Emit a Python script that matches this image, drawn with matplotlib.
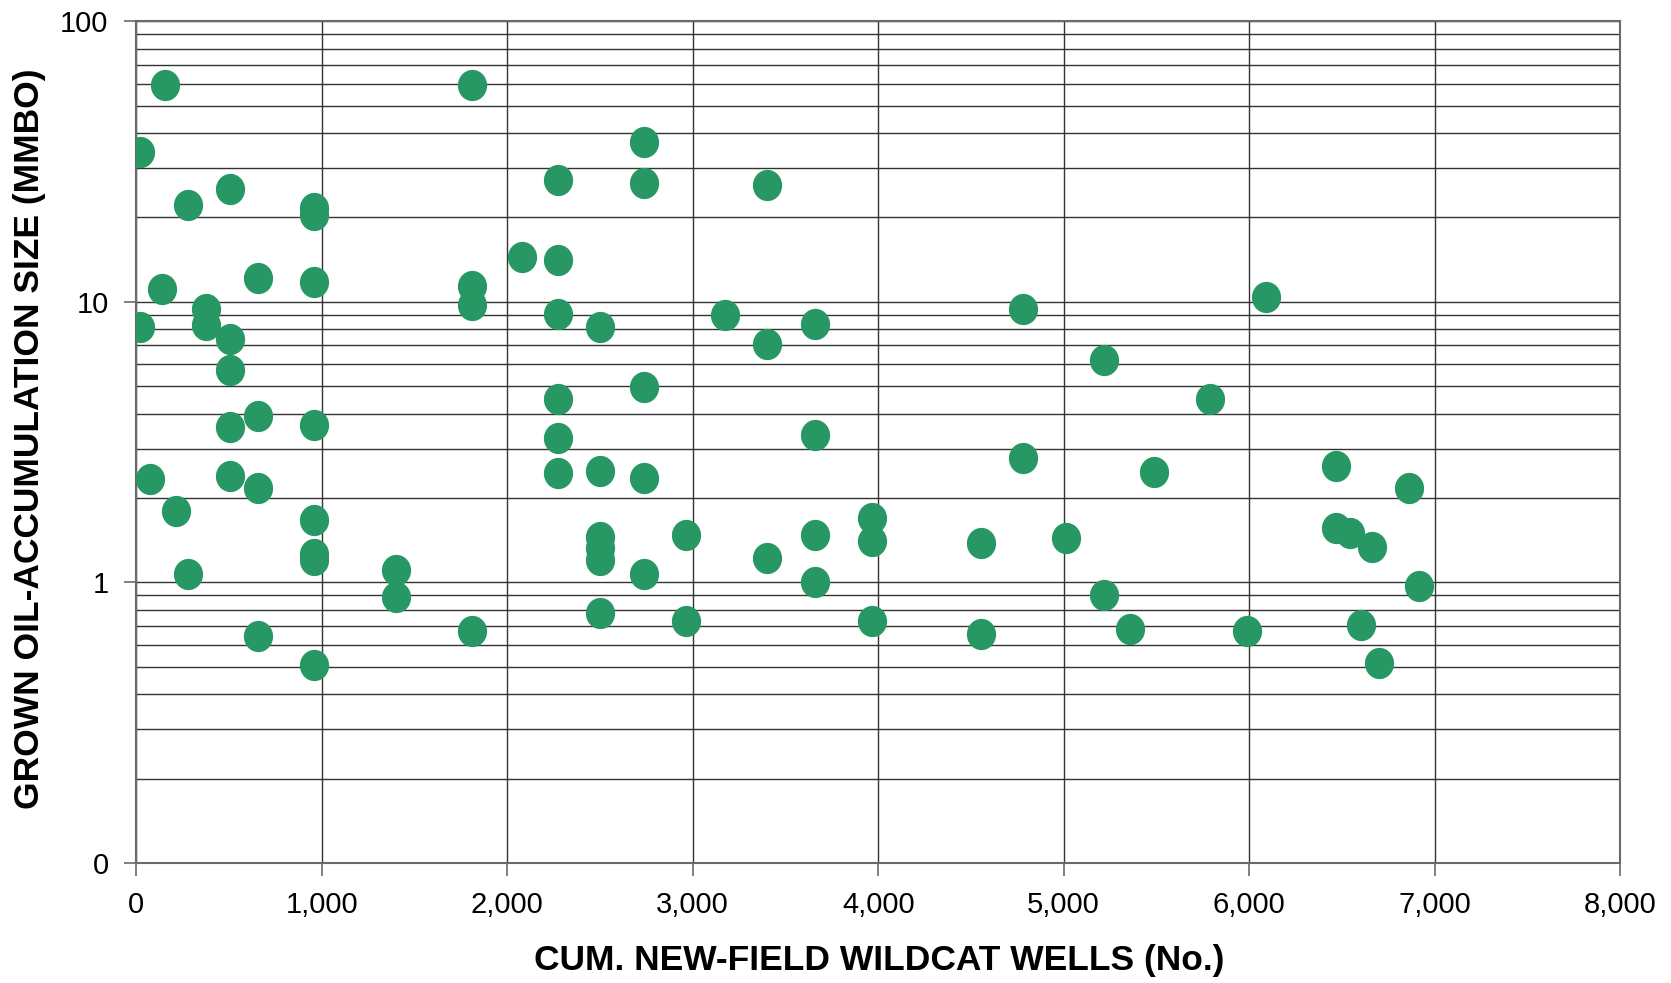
import matplotlib
matplotlib.use("Agg")
import matplotlib.pyplot as plt
import numpy as np
from matplotlib.path import Path
from matplotlib.ticker import FixedLocator, FuncFormatter, LogLocator, NullFormatter

# cumulative new-field wildcat wells vs grown accumulation size (MMBO)
wells = [17, 17, 75, 138, 155, 213, 276, 276,
         374, 374, 506, 506, 506, 506, 506,
         655, 655, 655, 655, 960, 960, 960, 960, 960, 960, 960, 960,
         1402, 1402, 1810, 1810, 1810, 1810, 2080,
         2276, 2276, 2276, 2276, 2276, 2276,
         2500, 2500, 2500, 2500, 2500, 2500,
         2736, 2736, 2736, 2736, 2736, 2966, 2966, 3172,
         3402, 3402, 3402, 3661, 3661, 3661, 3661,
         3966, 3966, 3966, 4552, 4552, 4782, 4782, 5011,
         5218, 5218, 5356, 5489, 5787, 5989, 6092,
         6466, 6466, 6546, 6603, 6661, 6701, 6862, 6914]
size_mmbo = [34.1, 8.13, 2.33, 11.1, 59.2, 1.79, 22.2, 1.07,
             9.4, 8.27, 25.3, 7.38, 5.73, 3.57, 2.39,
             12.2, 3.93, 2.17, 0.644, 21.6, 20.4, 11.8, 3.64, 1.67, 1.26, 1.20, 0.508,
             1.107, 0.89, 59.2, 11.4, 9.77, 0.672, 14.4,
             27.2, 14.1, 9.03, 4.49, 3.27, 2.45,
             8.13, 2.50, 1.45, 1.33, 1.20, 0.78,
             37.2, 26.5, 4.98, 2.35, 1.07, 1.48, 0.727, 8.95,
             26.2, 7.07, 1.22, 8.34, 3.36, 1.48, 1.0,
             1.70, 1.40, 0.727, 1.38, 0.655, 9.4, 2.77, 1.44,
             6.2, 0.905, 0.684, 2.47, 4.49, 0.672, 10.4,
             2.61, 1.56, 1.50, 0.703, 1.34, 0.517, 2.17, 0.97]

x_ticks = [0, 1000, 2000, 3000, 4000, 5000, 6000, 7000, 8000]
y_ticks = [0.1, 1, 10, 100]
y_tick_labels = ["0", "1", "10", "100"]

plt.rcParams['font.family'] = ['Liberation Sans', 'DejaVu Sans']

fig = plt.figure(figsize=(16.71, 9.83), dpi=100)
ax = fig.add_axes([0.0816, 0.1221, 0.8879, 0.8562])

# slightly tall dot marker, like the excel ones
t = np.linspace(0, 2*np.pi, 60)
ell = Path(np.column_stack([np.cos(t), 1.07*np.sin(t)]), closed=True)

ax.plot(wells, size_mmbo, linestyle='none', marker=ell, markersize=22.5,
        color='#279764', markeredgewidth=0, zorder=3)

ax.set_yscale('log')
ax.set_ylim(0.1, 100)
ax.set_xlim(0, 8000)

ax.xaxis.set_major_locator(FixedLocator(x_ticks))
ax.xaxis.set_major_formatter(FuncFormatter(lambda v, p: f"{int(v):,}"))
ax.yaxis.set_major_locator(FixedLocator(y_ticks))
ax.yaxis.set_major_formatter(FuncFormatter(lambda v, p: y_tick_labels[y_ticks.index(min(y_ticks, key=lambda q: abs(q - v)))]))
ax.yaxis.set_minor_locator(LogLocator(base=10, subs=np.arange(2, 10)))
ax.yaxis.set_minor_formatter(NullFormatter())

ax.grid(True, which='major', axis='both', color='#333333', linewidth=1.0)
ax.grid(True, which='minor', axis='y', color='#333333', linewidth=1.0)
ax.set_axisbelow(True)

for sp in ax.spines.values():
    sp.set_color('#6a6a6a')
    sp.set_linewidth(1.5)

ax.tick_params(axis='both', which='major', direction='out', length=9, width=1.2,
               color='#6a6a6a', labelsize=21, pad=11)
ax.tick_params(axis='y', which='minor', length=0)

ax.set_xlabel("CUM. NEW-FIELD WILDCAT WELLS (No.)", fontsize=25.5, fontweight='bold', va='center')
ax.set_ylabel("GROWN OIL-ACCUMULATION SIZE (MMBO)", fontsize=25.5, fontweight='bold', va='center')
ax.xaxis.set_label_coords(0.5005, -0.1164)
ax.yaxis.set_label_coords(-0.0717, 0.504)

fig.savefig("out.png", dpi=100)
